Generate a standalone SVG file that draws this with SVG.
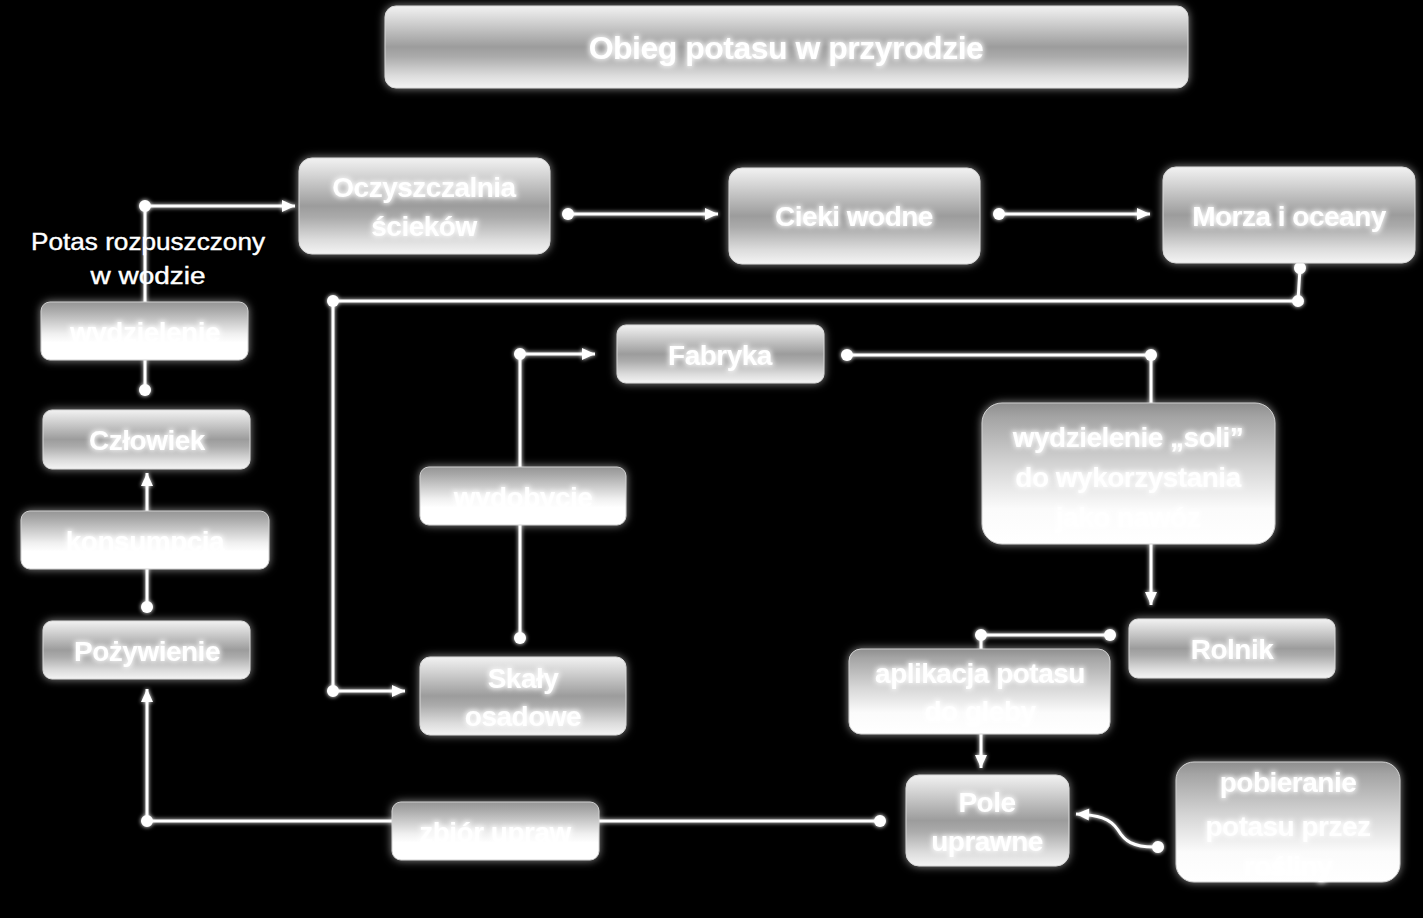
<svg xmlns="http://www.w3.org/2000/svg" width="1423" height="918" viewBox="0 0 1423 918">
<defs>
<linearGradient id="gMain" x1="0" y1="0" x2="0" y2="1">
<stop offset="0" stop-color="#f2f2f2"/>
<stop offset="0.18" stop-color="#d4d4d4"/>
<stop offset="0.5" stop-color="#9c9c9c"/>
<stop offset="0.62" stop-color="#ababab"/>
<stop offset="0.85" stop-color="#dcdcdc"/>
<stop offset="1" stop-color="#f4f4f4"/>
</linearGradient>
<linearGradient id="gLabel" x1="0" y1="0" x2="0" y2="1">
<stop offset="0" stop-color="#959595"/>
<stop offset="0.12" stop-color="#a6a6a6"/>
<stop offset="0.55" stop-color="#f0f0f0"/>
<stop offset="0.7" stop-color="#ffffff"/>
<stop offset="1" stop-color="#ffffff"/>
</linearGradient>
<linearGradient id="gLabelTall" x1="0" y1="0" x2="0" y2="1">
<stop offset="0" stop-color="#8e8e8e"/>
<stop offset="0.1" stop-color="#a4a4a4"/>
<stop offset="0.45" stop-color="#d6d6d6"/>
<stop offset="0.75" stop-color="#fbfbfb"/>
<stop offset="1" stop-color="#ffffff"/>
</linearGradient>
<filter id="bglow" x="-10%" y="-20%" width="120%" height="140%">
<feGaussianBlur in="SourceAlpha" stdDeviation="4" result="b"/>
<feFlood flood-color="#ffffff" flood-opacity="0.55"/>
<feComposite in2="b" operator="in" result="g"/>
<feMerge><feMergeNode in="g"/><feMergeNode in="SourceGraphic"/></feMerge>
</filter>
<filter id="tglow" x="-10%" y="-30%" width="120%" height="160%">
<feMorphology in="SourceAlpha" operator="dilate" radius="1" result="d"/>
<feGaussianBlur in="d" stdDeviation="2.5" result="b"/>
<feFlood flood-color="#ffffff" flood-opacity="0.85"/>
<feComposite in2="b" operator="in" result="g"/>
<feMerge><feMergeNode in="g"/><feMergeNode in="SourceGraphic"/></feMerge>
</filter>
<filter id="lglow" x="-5%" y="-5%" width="110%" height="110%">
<feGaussianBlur in="SourceGraphic" stdDeviation="2" result="b"/>
<feMerge><feMergeNode in="b"/><feMergeNode in="SourceGraphic"/></feMerge>
</filter>
<marker id="dot" markerUnits="userSpaceOnUse" markerWidth="16" markerHeight="16" refX="8" refY="8" orient="auto">
<circle cx="8" cy="8" r="6" fill="#ffffff"/>
</marker>
<marker id="arr" markerUnits="userSpaceOnUse" markerWidth="16" markerHeight="16" refX="14" refY="8" orient="auto">
<path d="M1,2 L14,8 L1,14 Z" fill="#ffffff"/>
</marker>
<style>
.main{fill:url(#gMain);stroke:#d8d8d8;stroke-width:1;filter:url(#bglow)}
.lab{fill:url(#gLabel);stroke:#d0d0d0;stroke-width:1;filter:url(#bglow)}
.labt{fill:url(#gLabelTall);stroke:#d0d0d0;stroke-width:1;filter:url(#bglow)}
.t{font-family:"Liberation Sans",Arial,sans-serif;font-weight:bold;font-size:28px;fill:#ffffff;text-anchor:middle;filter:url(#tglow);letter-spacing:-0.5px}
.ti{font-size:32px}
.plain{font-family:"Liberation Sans",Arial,sans-serif;font-size:23px;fill:#ffffff;text-anchor:middle;stroke:#ffffff;stroke-width:0.4}
.c{fill:none;stroke:#ffffff;stroke-width:3;marker-start:url(#dot);marker-end:url(#arr)}
.cm{marker-mid:url(#dot)}
</style>
</defs>
<rect width="1423" height="918" fill="#000000"/>

<g id="connectors" filter="url(#lglow)">
<path class="c cm" d="M145,390 V206 H295"/>
<path class="c" d="M568,214 H718"/>
<path class="c" d="M999,214 H1150"/>
<path class="c cm" d="M1300,268 L1298,301 H333 V691 H405"/>
<path class="c cm" d="M520,638 V354 H595"/>
<path class="c cm" d="M847,355 H1151 V605"/>
<path class="c cm" d="M1110,635 H981 V768"/>
<path class="c" d="M1158,847 C1132,848 1124,840 1118,830 C1110,818 1098,815 1076,814"/>
<path class="c cm" d="M880,821 H147 V689"/>
<path class="c" d="M147,607 V473"/>
</g>

<g id="title">
<rect class="main" x="385" y="6" width="803" height="82" rx="11"/>
<text class="t ti" x="786" y="59">Obieg potasu w przyrodzie</text>
</g>

<g id="oczyszczalnia">
<rect class="main" x="299" y="158" width="251" height="96" rx="13"/>
<text class="t" x="424" y="197">Oczyszczalnia</text>
<text class="t" x="424" y="236">ścieków</text>
</g>

<g id="cieki">
<rect class="main" x="729" y="168" width="251" height="96" rx="13"/>
<text class="t" x="854" y="226">Cieki wodne</text>
</g>

<g id="morza">
<rect class="main" x="1163" y="167" width="252" height="96" rx="13"/>
<text class="t" x="1289" y="226">Morza i oceany</text>
</g>

<g id="potas-label">
<text class="plain" x="148" y="250" textLength="234" lengthAdjust="spacingAndGlyphs">Potas rozpuszczony</text>
<text class="plain" x="148" y="284" textLength="115" lengthAdjust="spacingAndGlyphs">w wodzie</text>
</g>

<g id="wydzielenie">
<rect class="lab" x="41" y="302" width="207" height="58" rx="9"/>
<text class="t" x="145" y="342">wydzielenie</text>
</g>

<g id="czlowiek">
<rect class="main" x="43" y="410" width="207" height="59" rx="9"/>
<text class="t" x="147" y="450">Człowiek</text>
</g>

<g id="konsumpcja">
<rect class="lab" x="21" y="511" width="248" height="58" rx="9"/>
<text class="t" x="145" y="551">konsumpcja</text>
</g>

<g id="pozywienie">
<rect class="main" x="43" y="621" width="207" height="58" rx="9"/>
<text class="t" x="147" y="661">Pożywienie</text>
</g>

<g id="fabryka">
<rect class="main" x="617" y="325" width="207" height="58" rx="9"/>
<text class="t" x="720" y="365">Fabryka</text>
</g>

<g id="wydobycie">
<rect class="lab" x="420" y="467" width="206" height="58" rx="9"/>
<text class="t" x="523" y="507">wydobycie</text>
</g>

<g id="skaly">
<rect class="main" x="420" y="657" width="206" height="78" rx="10"/>
<text class="t" x="523" y="688">Skały</text>
<text class="t" x="523" y="726">osadowe</text>
</g>

<g id="wydzielenie-soli">
<rect class="labt" x="982" y="403" width="293" height="141" rx="20"/>
<text class="t" x="1128" y="447">wydzielenie „soli”</text>
<text class="t" x="1128" y="487">do wykorzystania</text>
<text class="t" x="1128" y="527">jako nawóz</text>
</g>

<g id="rolnik">
<rect class="main" x="1129" y="619" width="206" height="59" rx="9"/>
<text class="t" x="1232" y="659">Rolnik</text>
</g>

<g id="aplikacja">
<rect class="labt" x="849" y="649" width="261" height="85" rx="12"/>
<text class="t" x="980" y="683">aplikacja potasu</text>
<text class="t" x="980" y="721">do gleby</text>
</g>

<g id="pole">
<rect class="main" x="906" y="775" width="163" height="91" rx="13"/>
<text class="t" x="987" y="812">Pole</text>
<text class="t" x="987" y="851">uprawne</text>
</g>

<g id="pobieranie">
<rect class="labt" x="1176" y="762" width="224" height="120" rx="18"/>
<text class="t" x="1288" y="792">pobieranie</text>
<text class="t" x="1288" y="836">potasu przez</text>
<text class="t" x="1288" y="876">rośliny</text>
</g>

<g id="zbior">
<rect class="lab" x="392" y="802" width="207" height="58" rx="9"/>
<text class="t" x="495" y="842">zbiór upraw</text>
</g>
</svg>
